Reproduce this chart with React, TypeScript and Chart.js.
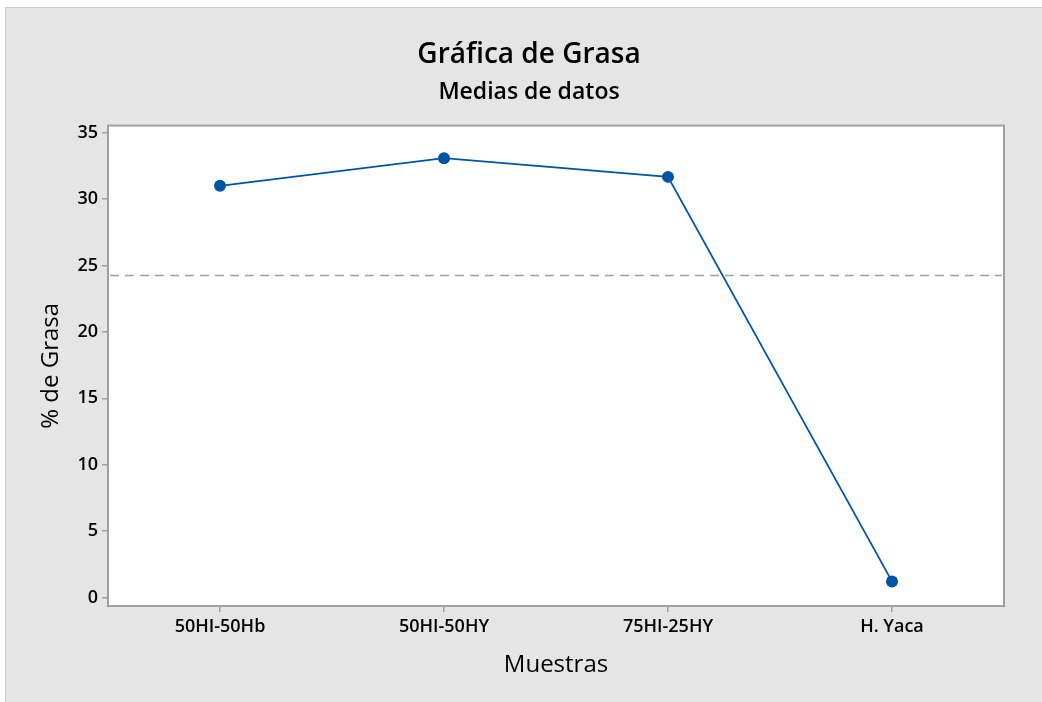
import React, { useEffect, useRef } from "react";
import { Chart, registerables } from "chart.js";

Chart.register(...registerables);

const categories = ["50HI-50Hb", "50HI-50HY", "75HI-25HY", "H. Yaca"];
const grasaMeans = [31.0, 33.08, 31.67, 1.22];
const yTicks = [0, 5, 10, 15, 20, 25, 30, 35];
const yMin = -0.63;
const yMax = 35.53;
const titleText = "Gráfica de Grasa";
const subtitleText = "Medias de datos";
const xTitle = "Muestras";
const yTitle = "% de Grasa";

const FONT = "'Open Sans', 'Noto Sans', sans-serif";
const BLUE = "#0054a6";
const GRAY = "#a0a0a0";

const overallMean = grasaMeans.reduce((a, b) => a + b, 0) / grasaMeans.length;

const framePlugin = {
  id: "frame",
  beforeDatasetsDraw(chart: any) {
    const { ctx, chartArea } = chart;
    const { left, top, right, bottom } = chartArea;
    ctx.save();
    ctx.fillStyle = "#ffffff";
    ctx.fillRect(left, top, right - left, bottom - top);
    const y = chart.scales.y.getPixelForValue(overallMean);
    ctx.strokeStyle = GRAY;
    ctx.lineWidth = 1.6;
    ctx.setLineDash([9, 6]);
    ctx.beginPath();
    ctx.moveTo(left + 2, y);
    ctx.lineTo(right - 2, y);
    ctx.stroke();
    ctx.setLineDash([]);
    ctx.lineWidth = 2;
    ctx.strokeStyle = GRAY;
    ctx.strokeRect(left, top, right - left, bottom - top);
    ctx.restore();
  },
};

export default function App() {
  const ref = useRef<HTMLCanvasElement | null>(null);
  useEffect(() => {
    document.body.style.margin = "0";
    const canvas = ref.current;
    if (!canvas) return;
    const chart = new Chart(canvas, {
      type: "line",
      data: {
        labels: categories,
        datasets: [
          {
            data: grasaMeans,
            borderColor: BLUE,
            backgroundColor: BLUE,
            borderWidth: 1.8,
            pointRadius: 6,
            pointHoverRadius: 6,
            pointBorderWidth: 0,
            pointBackgroundColor: BLUE,
            tension: 0,
            fill: false,
          },
        ],
      },
      options: {
        responsive: false,
        animation: false,
        devicePixelRatio: 1,
        layout: { padding: { left: 54, right: 38, top: 0, bottom: 0 } },
        plugins: {
          legend: { display: false },
          tooltip: { enabled: false },
          title: {
            display: true,
            text: titleText,
            color: "#000000",
            font: { family: FONT, size: 28, weight: "600" },
            padding: { top: 38, bottom: 7 },
          },
          subtitle: {
            display: true,
            text: subtitleText,
            color: "#000000",
            font: { family: FONT, size: 23, weight: "600" },
            padding: { top: 0, bottom: 19.4 },
          },
        },
        scales: {
          x: {
            type: "category",
            offset: true,
            afterFit(scale: any) {
              scale.height = 96;
            },
            grid: {
              display: true,
              drawOnChartArea: false,
              drawTicks: true,
              tickLength: 6,
              color: GRAY,
              lineWidth: 1.5,
              offset: false,
            },
            border: { display: false },
            ticks: {
              color: "#000000",
              font: { family: FONT, size: 18, weight: "600" },
              padding: 4,
              maxRotation: 0,
            },
            title: {
              display: true,
              text: xTitle,
              color: "#000000",
              font: { family: FONT, size: 24, weight: "400" },
              padding: { top: 0, bottom: 22.6 },
            },
          },
          y: {
            type: "linear",
            min: yMin,
            max: yMax,
            afterFit(scale: any) {
              scale.width = 54;
            },
            afterBuildTicks(scale: any) {
              scale.ticks = yTicks.map((v) => ({ value: v }));
            },
            grid: {
              display: true,
              drawOnChartArea: false,
              drawTicks: true,
              tickLength: 6,
              color: GRAY,
              lineWidth: 1.5,
            },
            border: { display: false },
            ticks: {
              color: "#000000",
              font: { family: FONT, size: 18, weight: "600" },
              padding: 4,
            },
            title: {
              display: true,
              text: yTitle,
              color: "#000000",
              font: { family: FONT, size: 24, weight: "400" },
              padding: { top: -17.4, bottom: 0 },
            },
          },
        },
      },
      plugins: [framePlugin],
    });
    return () => chart.destroy();
  }, []);

  return (
    <div style={{ position: "absolute", left: 0, top: 0, width: 1042, height: 702, background: "#ffffff" }}>
      <div
        style={{
          position: "absolute",
          left: 5,
          top: 7,
          right: 0,
          bottom: 0,
          background: "#e5e5e5",
          borderLeft: "1px solid #cccccc",
          borderTop: "1px solid #cccccc",
        }}
      />
      <canvas ref={ref} width={1042} height={702} style={{ position: "absolute", left: 0, top: 0, width: 1042, height: 702 }} />
    </div>
  );
}
